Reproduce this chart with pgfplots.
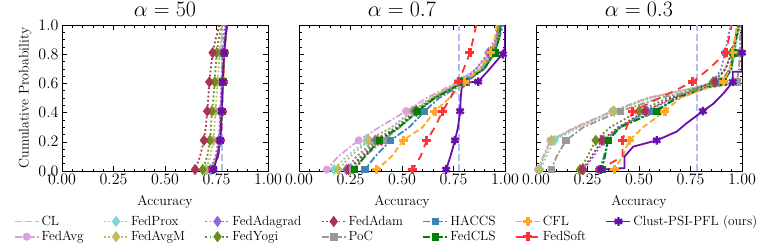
\RequirePackage{fix-cm}
\documentclass[border=0pt]{standalone}
\usepackage{pgfplots}
\usepackage{pgfplotstable}
\pgfplotsset{compat=1.18}
\definecolor{cCL}{HTML}{B0BEF0}
\definecolor{cAvg}{HTML}{DDA0DD}
\definecolor{cProx}{HTML}{7FD6D0}
\definecolor{cAvgM}{HTML}{BDBD5E}
\definecolor{cAdag}{HTML}{8E6BD6}
\definecolor{cYogi}{HTML}{6B8E23}
\definecolor{cAdam}{HTML}{A8344F}
\definecolor{cPoC}{HTML}{999999}
\definecolor{cHAC}{HTML}{3E84B4}
\definecolor{cCLS}{HTML}{008000}
\definecolor{cCFL}{HTML}{FFA726}
\definecolor{cSoft}{HTML}{FF3333}
\definecolor{cClu}{HTML}{6A0DAD}

\pgfplotstableread{
y     Avg   Prox  AvgM  Adag  Yogi  Adam  PoC   HAC   CLS   CFL   Soft
0     0.715 0.718 0.690 0.710 0.675 0.640 0.718 0.720 0.722 0.720 0.724
0.01  0.725 0.728 0.700 0.720 0.683 0.646 0.726 0.728 0.730 0.728 0.732
0.1   0.750 0.752 0.720 0.745 0.705 0.670 0.752 0.754 0.756 0.755 0.758
0.21  0.762 0.765 0.735 0.760 0.718 0.689 0.766 0.768 0.770 0.768 0.771
0.3   0.767 0.769 0.740 0.765 0.723 0.698 0.770 0.772 0.773 0.772 0.774
0.41  0.770 0.772 0.745 0.768 0.728 0.705 0.773 0.775 0.776 0.775 0.777
0.5   0.773 0.775 0.750 0.771 0.735 0.710 0.776 0.777 0.778 0.777 0.779
0.61  0.776 0.778 0.755 0.774 0.741 0.715 0.779 0.780 0.781 0.780 0.782
0.7   0.779 0.781 0.760 0.777 0.745 0.722 0.782 0.783 0.784 0.783 0.785
0.81  0.783 0.785 0.765 0.780 0.751 0.731 0.786 0.787 0.788 0.787 0.789
0.9   0.788 0.790 0.772 0.785 0.760 0.745 0.791 0.792 0.793 0.792 0.794
1.0   0.795 0.797 0.780 0.790 0.775 0.765 0.798 0.799 0.800 0.799 0.801
}\pOne

\pgfplotstableread{
y     Avg   Prox  AvgM  Adag  Yogi  Adam  PoC   HAC   CLS   CFL   Soft
0     0.120 0.160 0.180 0.220 0.220 0.220 0.240 0.300 0.260 0.370 0.540
0.01  0.135 0.170 0.190 0.230 0.240 0.240 0.260 0.320 0.270 0.378 0.552
0.1   0.190 0.230 0.250 0.280 0.300 0.310 0.320 0.370 0.320 0.450 0.590
0.21  0.290 0.330 0.340 0.370 0.380 0.400 0.410 0.445 0.390 0.506 0.620
0.3   0.390 0.450 0.450 0.470 0.480 0.490 0.490 0.535 0.485 0.600 0.660
0.41  0.520 0.550 0.550 0.560 0.570 0.570 0.580 0.610 0.575 0.660 0.697
0.5   0.620 0.640 0.640 0.650 0.650 0.660 0.660 0.680 0.660 0.730 0.735
0.61  0.770 0.780 0.790 0.790 0.800 0.800 0.800 0.810 0.800 0.805 0.773
0.7   0.860 0.880 0.890 0.860 0.890 0.880 0.890 0.900 0.900 0.880 0.800
0.81  0.930 0.940 0.940 0.920 0.940 0.930 0.940 0.950 0.950 0.930 0.830
0.9   0.955 0.960 0.965 0.950 0.960 0.960 0.960 0.970 0.970 0.950 0.845
1.0   0.970 0.980 0.980 0.970 0.970 0.980 0.980 0.990 0.980 0.960 0.860
}\pTwo

\pgfplotstableread{
y     Avg   Prox  AvgM  Adag  Yogi  Adam  PoC   HAC   CLS   CFL   Soft
0     0.000 0.010 0.000 0.220 0.200 0.210 0.060 0.300 0.310 0.370 0.300
0.01  0.010 0.020 0.015 0.230 0.214 0.225 0.075 0.310 0.320 0.380 0.310
0.1   0.035 0.050 0.040 0.280 0.250 0.270 0.100 0.330 0.335 0.420 0.420
0.21  0.070 0.090 0.075 0.330 0.290 0.320 0.146 0.350 0.350 0.453 0.420
0.3   0.190 0.210 0.200 0.410 0.360 0.400 0.230 0.400 0.410 0.520 0.440
0.41  0.370 0.380 0.375 0.540 0.500 0.530 0.410 0.570 0.586 0.626 0.470
0.5   0.540 0.550 0.550 0.670 0.640 0.660 0.600 0.690 0.680 0.700 0.600
0.61  0.900 0.900 0.890 0.860 0.860 0.870 0.975 0.900 0.910 0.910 0.760
0.7   0.945 0.950 0.945 0.900 0.920 0.920 0.985 0.940 0.950 0.940 0.840
0.81  0.960 0.965 0.962 0.918 0.950 0.950 0.990 0.960 0.957 0.955 0.922
0.9   0.970 0.975 0.972 0.930 0.965 0.965 0.990 0.970 0.970 0.965 0.935
1.0   0.985 0.990 0.985 0.945 0.980 0.980 0.995 0.990 0.985 0.975 0.950
}\pThree

\pgfplotsset{
  panel/.style={
    scale only axis, width=206pt, height=146pt,
    xmin=0, xmax=1, ymin=0, ymax=1,
    xtick={0,0.25,0.5,0.75,1}, ytick={0,0.2,0.4,0.6,0.8,1},
    minor x tick num=4, minor y tick num=3,
    tick align=inside, xtick pos=both, ytick pos=both,
    major tick length=5pt, minor tick length=2.5pt,
    every tick/.style={black, line width=0.6pt},
    axis line style={line width=0.8pt},
    xticklabel style={/pgf/number format/.cd, fixed, fixed zerofill, precision=2},
    yticklabel style={/pgf/number format/.cd, fixed, fixed zerofill, precision=1},
    tick label style={font=\fontsize{16}{18}\selectfont},
    label style={font=\fontsize{14}{16}\selectfont},
    xlabel style={yshift=-4pt},
    title style={font=\fontsize{22}{24}\selectfont, yshift=-1pt},
    xlabel={Accuracy},
  },
  base/.style={line width=1.8pt},
  sCL/.style={base, color=cCL, dash pattern=on 7pt off 3pt},
  sAvg/.style={base, color=cAvg, dash pattern=on 7pt off 2pt on 2pt off 2pt, mark=*, mark size=3.6pt, mark options={solid, line width=0.8pt}},
  sProx/.style={base, color=cProx, dash pattern=on 1.8pt off 2.4pt, mark=diamond*, mark size=5pt, mark options={solid, line width=0.8pt}},
  sAvgM/.style={base, color=cAvgM, dash pattern=on 1.8pt off 2.4pt, mark=diamond*, mark size=5pt, mark options={solid, line width=0.8pt}},
  sAdag/.style={base, color=cAdag, dash pattern=on 1.8pt off 2.4pt, mark=diamond*, mark size=5pt, mark options={solid, line width=0.8pt}},
  sYogi/.style={base, color=cYogi, dash pattern=on 1.8pt off 2.4pt, mark=diamond*, mark size=5pt, mark options={solid, line width=0.8pt}},
  sAdam/.style={base, color=cAdam, dash pattern=on 1.8pt off 2.4pt, mark=diamond*, mark size=5pt, mark options={solid, line width=0.8pt}},
  sPoC/.style={base, color=cPoC, dash pattern=on 7pt off 2pt on 2pt off 2pt, mark=square*, mark size=3.2pt, mark options={solid, line width=0.8pt}},
  sHAC/.style={base, color=cHAC, dash pattern=on 7pt off 2pt on 2pt off 2pt, mark=square*, mark size=3.2pt, mark options={solid, line width=0.8pt}},
  sCLS/.style={base, color=cCLS, dash pattern=on 7pt off 2pt on 2pt off 2pt, mark=square*, mark size=3.2pt, mark options={solid, line width=0.8pt}},
  sCFL/.style={base, color=cCFL, dash pattern=on 6pt off 3pt, mark=+, mark size=4.5pt, mark options={solid, line width=3.2pt}},
  sSoft/.style={base, color=cSoft, dash pattern=on 8pt off 6pt, mark=+, mark size=4.5pt, mark options={solid, line width=3.2pt}},
  sClu/.style={base, color=cClu, solid, mark=asterisk, mark size=4.3pt, mark options={solid, line width=2.4pt}},
  mk/.style={mark indices={2,4,6,8,10}},
}

\begin{document}
\begin{tikzpicture}
\useasboundingbox (0,0) rectangle (773pt,-250pt);

% ---------- alpha = 50 ----------
\begin{axis}[panel, at={(62pt,-25pt)}, anchor=north west,
  title={$\alpha = 50$}, ylabel={Cumulative Probability}]
\addplot[sCL] coordinates {(0.775,0) (0.775,1)};
\addplot[sAvg,mk]  table[x=Avg,y=y]{\pOne};
\addplot[sProx,mk] table[x=Prox,y=y]{\pOne};
\addplot[sAvgM,mk] table[x=AvgM,y=y]{\pOne};
\addplot[sAdag,mk] table[x=Adag,y=y]{\pOne};
\addplot[sYogi,mk] table[x=Yogi,y=y]{\pOne};
\addplot[sAdam,mk] table[x=Adam,y=y]{\pOne};
\addplot[sPoC,mk]  table[x=PoC,y=y]{\pOne};
\addplot[sHAC,mk]  table[x=HAC,y=y]{\pOne};
\addplot[sCLS,mk]  table[x=CLS,y=y]{\pOne};
\addplot[sCFL,mk]  table[x=CFL,y=y]{\pOne};
\addplot[sSoft,mk] table[x=Soft,y=y]{\pOne};
\addplot[sClu,mk] coordinates {(0.725,0) (0.735,0.01) (0.755,0.1) (0.768,0.21) (0.772,0.3) (0.775,0.41) (0.778,0.5) (0.780,0.61) (0.783,0.7) (0.787,0.81) (0.793,0.9) (0.800,1.0)};
\end{axis}

% ---------- alpha = 0.7 ----------
\begin{axis}[panel, at={(299pt,-25pt)}, anchor=north west,
  title={$\alpha = 0.7$}, yticklabels={},
  legend style={at={(axis description cs:0.4248,-0.397)}, anchor=center,
    legend columns=7, draw=none, fill=none, row sep=2pt,
    nodes={font=\fontsize{13.3}{15}\selectfont, inner ysep=1pt},
    /tikz/every even column/.append style={column sep=17.5pt}},
  legend cell align=left,
  legend image code/.code={\draw[mark repeat=2,mark phase=2,#1] plot coordinates {(0pt,0pt) (12pt,0pt) (24pt,0pt)};}]
\addlegendimage{sCL}
\addlegendimage{sProx}
\addlegendimage{sAdag}
\addlegendimage{sAdam}
\addlegendimage{sHAC}
\addlegendimage{sCFL}
\addlegendimage{sClu}
\addlegendimage{sAvg}
\addlegendimage{sAvgM}
\addlegendimage{sYogi}
\addlegendimage{sPoC}
\addlegendimage{sCLS}
\addlegendimage{sSoft}
\legend{CL, FedProx, FedAdagrad, FedAdam, HACCS, CFL, Clust-PSI-PFL (ours), FedAvg, FedAvgM, FedYogi, PoC, FedCLS, FedSoft}
\addplot[sCL] coordinates {(0.778,0) (0.778,1)};
\addplot[sAvg,mk]  table[x=Avg,y=y]{\pTwo};
\addplot[sProx,mk] table[x=Prox,y=y]{\pTwo};
\addplot[sAvgM,mk] table[x=AvgM,y=y]{\pTwo};
\addplot[sAdag,mk] table[x=Adag,y=y]{\pTwo};
\addplot[sYogi,mk] table[x=Yogi,y=y]{\pTwo};
\addplot[sAdam,mk] table[x=Adam,y=y]{\pTwo};
\addplot[sPoC,mk]  table[x=PoC,y=y]{\pTwo};
\addplot[sHAC,mk]  table[x=HAC,y=y]{\pTwo};
\addplot[sCLS,mk]  table[x=CLS,y=y]{\pTwo};
\addplot[sCFL,mk]  table[x=CFL,y=y]{\pTwo};
\addplot[sSoft,mk] table[x=Soft,y=y]{\pTwo};
\addplot[sClu, mark indices={2,4,6,10,13}] coordinates {(0.700,0) (0.714,0.01) (0.735,0.1) (0.757,0.21) (0.772,0.3) (0.782,0.41) (0.785,0.5) (0.790,0.57) (0.810,0.605) (0.870,0.612) (0.920,0.69) (0.975,0.78) (0.990,0.80) (1.0,0.85) (1.0,1.0)};
\end{axis}

% ---------- alpha = 0.3 ----------
\begin{axis}[panel, at={(536pt,-25pt)}, anchor=north west,
  title={$\alpha = 0.3$}, yticklabels={}]
\addplot[sCL] coordinates {(0.78,0) (0.78,1)};
\addplot[sAvg,mk]  table[x=Avg,y=y]{\pThree};
\addplot[sProx,mk] table[x=Prox,y=y]{\pThree};
\addplot[sAvgM,mk] table[x=AvgM,y=y]{\pThree};
\addplot[sAdag,mk] table[x=Adag,y=y]{\pThree};
\addplot[sYogi,mk] table[x=Yogi,y=y]{\pThree};
\addplot[sAdam,mk] table[x=Adam,y=y]{\pThree};
\addplot[sPoC,mk]  table[x=PoC,y=y]{\pThree};
\addplot[sHAC,mk]  table[x=HAC,y=y]{\pThree};
\addplot[sCLS,mk]  table[x=CLS,y=y]{\pThree};
\addplot[sCFL,mk]  table[x=CFL,y=y]{\pThree};
\addplot[sSoft,mk] table[x=Soft,y=y]{\pThree};
\addplot[sClu, mark indices={2,6,9,12,15}] coordinates {(0.310,0) (0.315,0.01) (0.430,0.02) (0.430,0.10) (0.472,0.167) (0.586,0.21) (0.683,0.27) (0.730,0.326) (0.810,0.41) (0.860,0.46) (0.909,0.53) (0.955,0.61) (0.955,0.68) (1.0,0.68) (1.0,0.81) (1.0,1.0)};
\end{axis}
\end{tikzpicture}
\end{document}
